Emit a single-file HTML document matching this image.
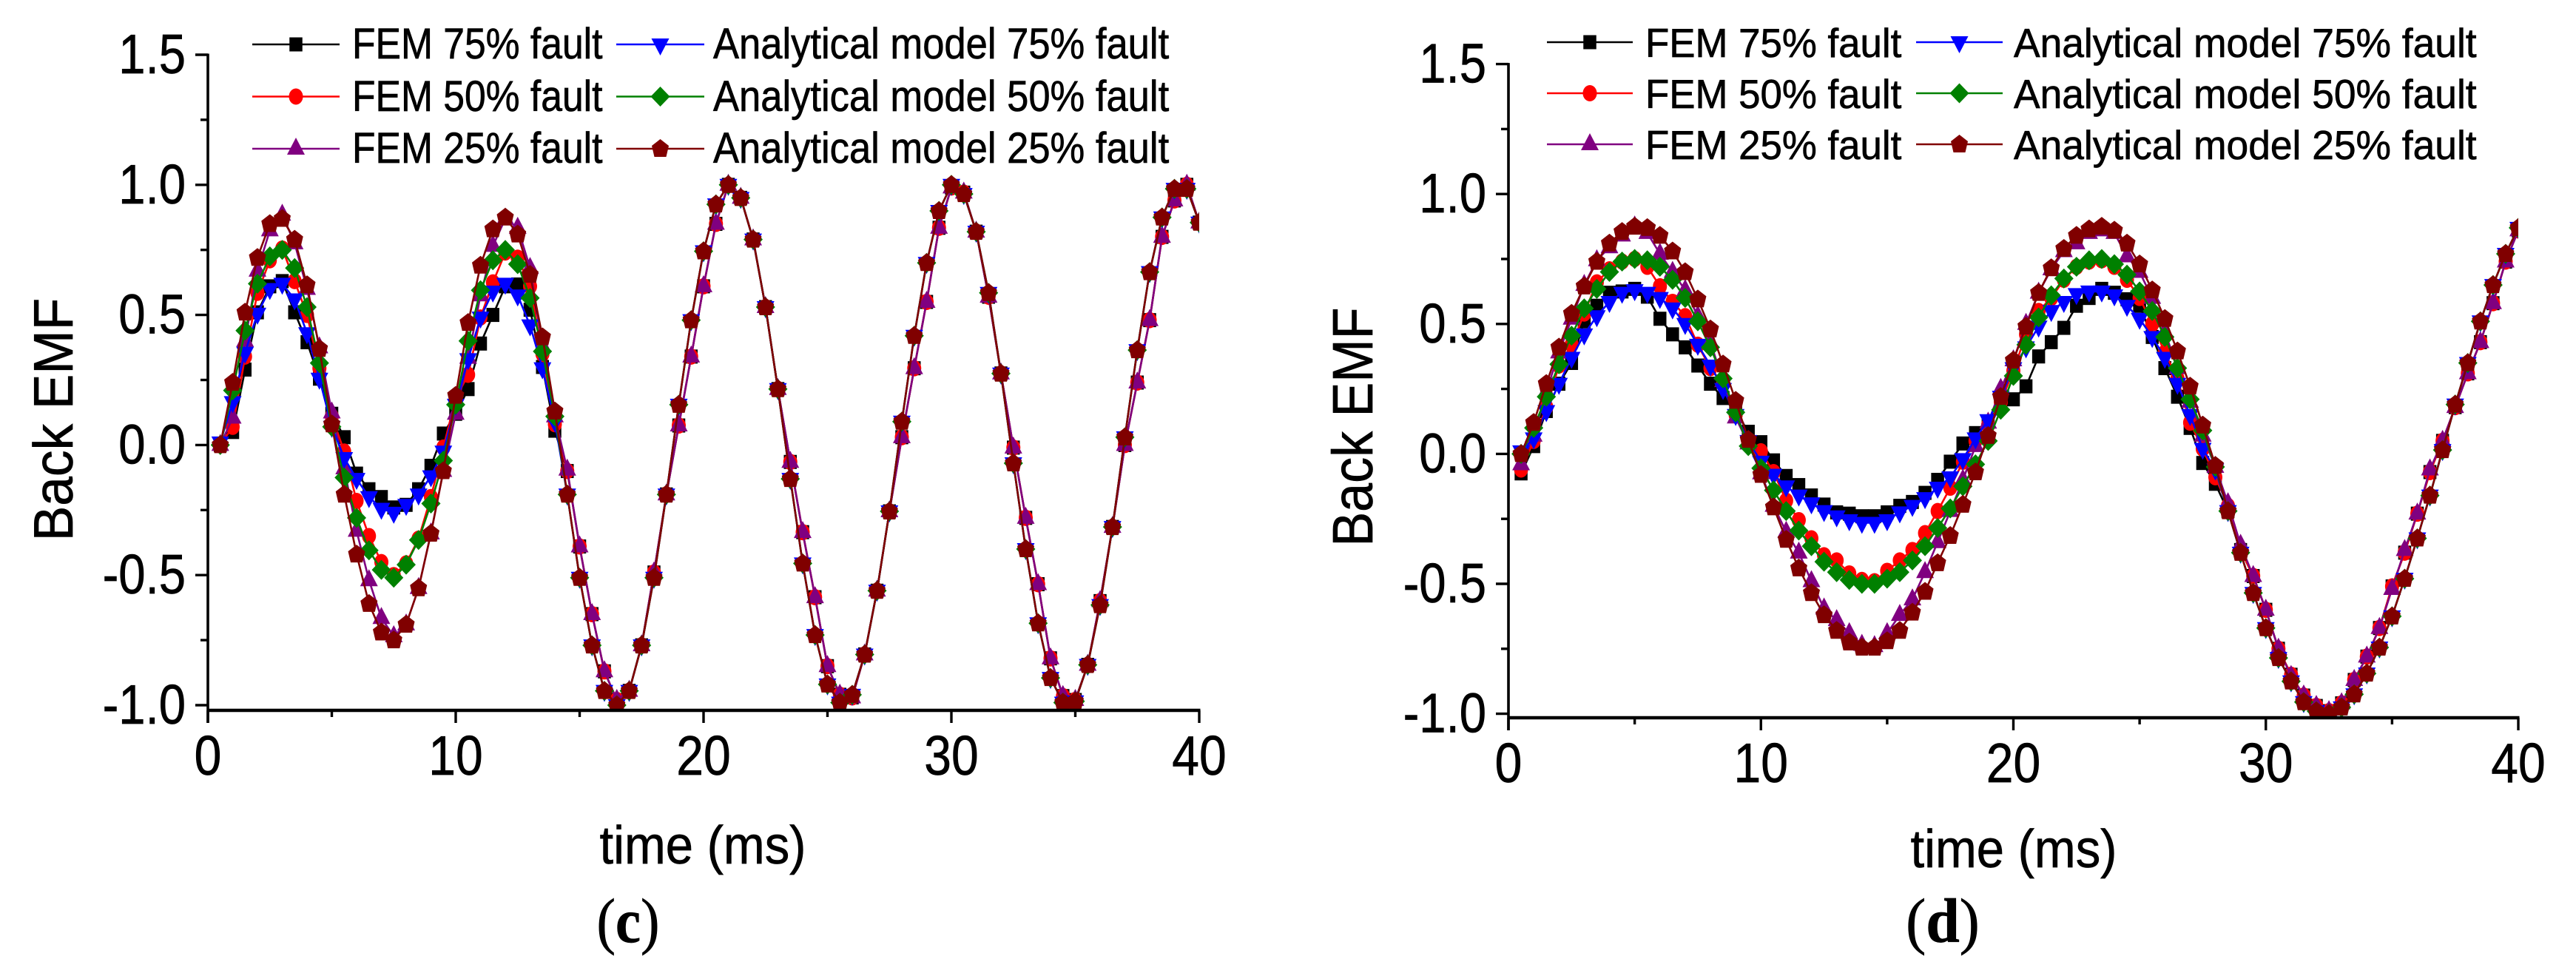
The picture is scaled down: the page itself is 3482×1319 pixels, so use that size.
<!DOCTYPE html>
<html lang="en">
<head>
<meta charset="utf-8">
<title>Back EMF comparison</title>
<style>
html,body{margin:0;padding:0;background:#fff;}
svg{display:block;}
text{font-family:"Liberation Sans",sans-serif;fill:#000;stroke:#000;stroke-width:.7px;}
.serif{font-family:"Liberation Serif",serif;}
</style>
</head>
<body>
<svg id="figure" xmlns="http://www.w3.org/2000/svg" width="3482" height="1319" viewBox="0 0 3482 1319">
  <rect width="3482" height="1319" fill="#fff"/>
  <defs>
    <clipPath id="clip-c"><rect x="281" y="60" width="1340" height="900"/></clipPath>
    <clipPath id="clip-d"><rect x="2039" y="60" width="1365" height="910"/></clipPath>
  </defs>
  <g id="panel-c">
    <g id="panel-c-marks" clip-path="url(#clip-c)"></g>
    <g id="panel-c-axes"></g>
    <g id="panel-c-legend-keys"></g>
    <g font-size="58">
      <text transform="translate(476,79) scale(.89,1)">FEM 75% fault</text>
      <text transform="translate(476,150) scale(.89,1)">FEM 50% fault</text>
      <text transform="translate(476,220) scale(.89,1)">FEM 25% fault</text>
      <text transform="translate(964,79) scale(.906,1)">Analytical model 75% fault</text>
      <text transform="translate(964,150) scale(.906,1)">Analytical model 50% fault</text>
      <text transform="translate(964,220) scale(.906,1)">Analytical model 25% fault</text>
    </g>
    <text font-size="75" text-anchor="middle" transform="translate(98,567) rotate(-90) scale(.95,1)">Back EMF</text>
    <text font-size="72" text-anchor="middle" transform="translate(950,1167) scale(.93,1)">time (ms)</text>
    <text class="serif" font-size="85" text-anchor="middle" transform="translate(849,1273) scale(.9,1)">(<tspan font-weight="bold">c</tspan>)</text>
  </g>
  <g id="panel-d">
    <g id="panel-d-marks" clip-path="url(#clip-d)"></g>
    <g id="panel-d-axes"></g>
    <g id="panel-d-legend-keys"></g>
    <g font-size="55">
      <text transform="translate(2224,77) scale(.96,1)">FEM 75% fault</text>
      <text transform="translate(2224,146) scale(.96,1)">FEM 50% fault</text>
      <text transform="translate(2224,215) scale(.96,1)">FEM 25% fault</text>
      <text transform="translate(2722,77) scale(.97,1)">Analytical model 75% fault</text>
      <text transform="translate(2722,146) scale(.97,1)">Analytical model 50% fault</text>
      <text transform="translate(2722,215) scale(.97,1)">Analytical model 25% fault</text>
    </g>
    <text font-size="77" text-anchor="middle" transform="translate(1855,577) rotate(-90) scale(.91,1)">Back EMF</text>
    <text font-size="72" text-anchor="middle" transform="translate(2722,1172) scale(.93,1)">time (ms)</text>
    <text class="serif" font-size="85" text-anchor="middle" transform="translate(2626,1273) scale(.96,1)">(<tspan font-weight="bold">d</tspan>)</text>
  </g>
</svg>
<script>
const timeMs = [0.5,1,1.5,2,2.5,3,3.5,4,4.5,5,5.5,6,6.5,7,7.5,8,8.5,9,9.5,10,10.5,11,11.5,12,12.5,13,13.5,14,14.5,15,15.5,16,16.5,17,17.5,18,18.5,19,19.5,20,20.5,21,21.5,22,22.5,23,23.5,24,24.5,25,25.5,26,26.5,27,27.5,28,28.5,29,29.5,30,30.5,31,31.5,32,32.5,33,33.5,34,34.5,35,35.5,36,36.5,37,37.5,38,38.5,39,39.5,40];
const xTickValues = [0,10,20,30,40];
const xMinorValues = [5,15,25,35];
const yTickValues = [-1,-0.5,0,0.5,1,1.5];
const yMinorValues = [-0.75,-0.25,0.25,0.75,1.25];

const cFem75 = [0,.05,.29,.51,.61,.63,.51,.395,.255,.12,.03,-.11,-.17,-.2,-.24,-.23,-.17,-.08,.044,.12,.215,.39,.5,.61,.617,.52,.3,.055,-.1,-.39,-.65,-.87,-.98,-.945,-.77,-.49,-.19,.075,.34,.61,.85,1,.95,.79,.53,.215,-.065,-.335,-.585,-.85,-.96,-.97,-.805,-.56,-.255,.03,.295,.55,.835,.99,.97,.82,.57,.275,-.01,-.28,-.535,-.82,-.965,-.98,-.845,-.6,-.315,0,.24,.48,.8,.94,1,.855];
const cFem50 = [0,.07,.34,.585,.71,.755,.63,.5,.295,.11,-.025,-.215,-.35,-.45,-.5,-.455,-.36,-.2,-.01,.18,.27,.49,.625,.74,.72,.61,.35,.08,-.1,-.39,-.65,-.87,-.98,-.945,-.77,-.49,-.19,.075,.34,.61,.85,1,.95,.79,.53,.215,-.065,-.335,-.585,-.85,-.96,-.97,-.805,-.56,-.255,.03,.295,.55,.835,.99,.97,.82,.57,.275,-.01,-.28,-.535,-.82,-.965,-.98,-.845,-.6,-.315,0,.24,.48,.8,.94,1,.855];
const cFem25 = [0,.105,.4,.67,.825,.885,.775,.6,.375,.125,-.09,-.33,-.52,-.665,-.735,-.69,-.55,-.34,-.1,.12,.335,.575,.765,.87,.835,.68,.38,.11,-.095,-.39,-.65,-.87,-.98,-.945,-.77,-.49,-.19,.075,.34,.61,.85,1,.95,.79,.53,.215,-.065,-.335,-.585,-.85,-.96,-.97,-.805,-.56,-.255,.03,.295,.55,.835,.99,.97,.82,.57,.275,-.01,-.28,-.535,-.82,-.965,-.98,-.845,-.6,-.315,0,.24,.48,.8,.94,1,.855];
const cModel75 = [.01,.165,.355,.505,.6,.62,.56,.43,.255,.07,-.05,-.13,-.2,-.245,-.26,-.23,-.19,-.12,-.025,.155,.33,.49,.59,.62,.575,.46,.295,.09,-.19,-.51,-.77,-.945,-1,-.945,-.77,-.51,-.19,.155,.48,.745,.925,1,.95,.79,.53,.215,-.13,-.455,-.73,-.92,-.99,-.96,-.805,-.56,-.255,.09,.42,.7,.9,1,.965,.82,.585,.275,-.07,-.4,-.685,-.895,-.99,-.985,-.845,-.615,-.315,.03,.365,.665,.875,.985,.985,.855];
const cModel50 = [0,.21,.44,.62,.725,.75,.68,.53,.315,.07,-.125,-.28,-.405,-.48,-.51,-.46,-.365,-.225,-.06,.155,.4,.595,.71,.75,.695,.565,.36,.11,-.19,-.51,-.77,-.945,-1,-.945,-.77,-.51,-.19,.155,.48,.745,.925,1,.95,.79,.53,.215,-.13,-.455,-.73,-.92,-.99,-.96,-.805,-.56,-.255,.09,.42,.7,.9,1,.965,.82,.585,.275,-.07,-.4,-.685,-.895,-.99,-.985,-.845,-.615,-.315,.03,.365,.665,.875,.985,.985,.855];
const cModel25 = [0,.24,.51,.72,.85,.87,.79,.615,.37,.08,-.19,-.42,-.61,-.72,-.75,-.69,-.55,-.34,-.1,.19,.47,.69,.83,.875,.81,.655,.415,.13,-.19,-.51,-.77,-.945,-1,-.945,-.77,-.51,-.19,.155,.48,.745,.925,1,.95,.79,.53,.215,-.13,-.455,-.73,-.92,-.99,-.96,-.805,-.56,-.255,.09,.42,.7,.9,1,.965,.82,.585,.275,-.07,-.4,-.685,-.895,-.99,-.985,-.845,-.615,-.315,.03,.365,.665,.875,.985,.985,.855];

const dFem75 = [-.075,.03,.165,.27,.35,.51,.57,.62,.625,.635,.605,.52,.46,.41,.34,.27,.215,.165,.085,.045,-.025,-.085,-.12,-.16,-.195,-.225,-.23,-.24,-.24,-.225,-.2,-.185,-.15,-.1,-.03,.04,.08,.125,.19,.21,.26,.375,.43,.485,.57,.6,.635,.62,.595,.57,.45,.33,.22,.1,-.035,-.115,-.22,-.37,-.47,-.6,-.75,-.85,-.93,-.97,-.99,-.96,-.87,-.78,-.67,-.51,-.38,-.23,-.07,.05,.18,.31,.43,.58,.74,.86];
const dFem50 = [-.06,.05,.18,.34,.42,.54,.66,.71,.74,.75,.72,.645,.585,.53,.42,.33,.27,.15,.05,.01,-.07,-.18,-.255,-.325,-.39,-.41,-.46,-.485,-.49,-.45,-.41,-.37,-.305,-.22,-.13,-.03,.05,.11,.2,.32,.46,.55,.6,.67,.72,.74,.745,.72,.67,.6,.5,.39,.29,.12,.02,-.09,-.2,-.37,-.47,-.6,-.75,-.85,-.93,-.97,-.99,-.96,-.87,-.78,-.67,-.51,-.38,-.23,-.07,.05,.18,.31,.43,.58,.74,.86];
const dFem25 = [-.04,.07,.24,.39,.52,.65,.745,.795,.84,.875,.85,.77,.7,.63,.53,.43,.28,.14,.04,-.075,-.2,-.3,-.38,-.49,-.595,-.64,-.69,-.735,-.74,-.69,-.62,-.56,-.455,-.34,-.22,-.1,.03,.12,.25,.36,.5,.62,.71,.78,.81,.85,.86,.85,.76,.7,.6,.47,.33,.2,.07,-.05,-.19,-.35,-.47,-.6,-.75,-.855,-.93,-.97,-.99,-.96,-.87,-.78,-.67,-.52,-.37,-.23,-.06,.05,.18,.31,.43,.58,.74,.86];
const dModel75 = [.01,.06,.165,.27,.37,.46,.53,.585,.62,.63,.62,.6,.56,.5,.42,.34,.25,.15,.05,-.03,-.08,-.125,-.16,-.19,-.22,-.24,-.255,-.265,-.265,-.255,-.225,-.2,-.17,-.13,-.09,-.02,.06,.13,.22,.33,.41,.49,.55,.585,.615,.625,.625,.61,.57,.52,.45,.37,.27,.15,.02,-.06,-.22,-.38,-.535,-.67,-.785,-.875,-.955,-.99,-1,-.975,-.925,-.845,-.745,-.625,-.48,-.325,-.16,.015,.19,.35,.51,.65,.77,.87];
const dModel50 = [0,.1,.22,.345,.455,.56,.635,.7,.74,.75,.745,.72,.67,.6,.51,.41,.29,.16,.03,-.055,-.14,-.22,-.295,-.355,-.415,-.455,-.485,-.5,-.5,-.48,-.455,-.41,-.355,-.285,-.21,-.125,-.04,.05,.17,.3,.42,.525,.61,.675,.72,.745,.75,.73,.69,.625,.55,.45,.33,.21,.09,-.05,-.22,-.38,-.535,-.67,-.785,-.875,-.955,-.99,-1,-.975,-.925,-.845,-.745,-.625,-.48,-.325,-.16,.015,.19,.35,.51,.65,.77,.87];
const dModel25 = [0,.12,.27,.41,.54,.645,.74,.81,.855,.875,.87,.84,.78,.7,.595,.48,.345,.205,.055,-.08,-.205,-.33,-.44,-.535,-.62,-.68,-.725,-.745,-.745,-.72,-.68,-.61,-.53,-.42,-.315,-.195,-.07,.07,.22,.36,.49,.62,.715,.79,.84,.865,.875,.86,.81,.73,.63,.52,.395,.26,.11,-.045,-.22,-.38,-.535,-.67,-.785,-.875,-.955,-.99,-1,-.975,-.925,-.845,-.745,-.625,-.48,-.325,-.16,.015,.19,.35,.51,.65,.77,.87];

const SVGNS = 'http://www.w3.org/2000/svg';

function make(tag, attrs, parent) {
  const el = document.createElementNS(SVGNS, tag);
  for (const k in attrs) el.setAttribute(k, attrs[k]);
  parent.appendChild(el);
  return el;
}

function drawMarker(kind, cx, cy, color, parent, name) {
  let el;
  if (kind === 'square') {
    el = make('rect', {x: cx - 8.75, y: cy - 9.5, width: 17.5, height: 19, fill: color}, parent);
  } else if (kind === 'circle') {
    el = make('ellipse', {cx: cx, cy: cy, rx: 9.5, ry: 11, fill: color}, parent);
  } else {
    const shapes = {
      up: [[0,-15],[12,8],[-12,8]],
      down: [[-12,-8],[12,-8],[0,15]],
      diamond: [[0,-13.5],[13,0],[0,13.5],[-13,0]],
      pentagon: [[0,-13],[11.5,-4],[8,11],[-8,11],[-11.5,-4]]
    };
    const pts = shapes[kind].map(p => (cx + p[0]) + ',' + (cy + p[1])).join(' ');
    el = make('polygon', {points: pts, fill: color}, parent);
  }
  
  
  return el;
}

function drawPanel(id, layout, series) {
  const xScale = t => layout.x0 + (t / 40) * (layout.x1 - layout.x0);
  const yScale = v => layout.yZero - v * layout.yUnit;
  const marks = document.getElementById(id + '-marks');
  const axes = document.getElementById(id + '-axes');
  const keys = document.getElementById(id + '-legend-keys');

  series.forEach(s => {
    const pts = s.values.map((v, i) => xScale(timeMs[i]).toFixed(1) + ',' + yScale(v).toFixed(1)).join(' ');
    const line = make('polyline', {points: pts, fill: 'none', stroke: s.color, 'stroke-width': 2.6, 'stroke-linejoin': 'round'}, marks);
    
    
    s.values.forEach((v, i) => {
      drawMarker(s.marker, xScale(timeMs[i]), yScale(v), s.color, marks, s.name + '-point');
    });
  });

  const yLine = make('line', {x1: layout.x0, x2: layout.x0, y1: yScale(1.5) - 1.5, y2: layout.yBottom + 17, stroke: '#000', 'stroke-width': 3.6}, axes);
  
  
  const xLine = make('line', {x1: layout.x0, x2: layout.x1 + 1.5, y1: layout.yBottom, y2: layout.yBottom, stroke: '#000', 'stroke-width': 4.4}, axes);
  
  

  yTickValues.forEach(v => {
    const tick = make('line', {x1: layout.x0 - 17, x2: layout.x0, y1: yScale(v), y2: yScale(v), stroke: '#000', 'stroke-width': 3.4}, axes);
    
    
    const label = make('text', {'font-size': 75, 'text-anchor': 'end', transform: 'translate(' + (layout.x0 - 30) + ',' + (yScale(v) + 25) + ') scale(.87,1)'}, axes);
    label.textContent = v.toFixed(1);
    
    
  });
  yMinorValues.forEach(v => {
    const tick = make('line', {x1: layout.x0 - 10, x2: layout.x0, y1: yScale(v), y2: yScale(v), stroke: '#000', 'stroke-width': 3.4}, axes);
    
    
  });
  xTickValues.forEach(t => {
    const tick = make('line', {x1: xScale(t), x2: xScale(t), y1: layout.yBottom, y2: layout.yBottom + 17, stroke: '#000', 'stroke-width': 3.4}, axes);
    
    
    const label = make('text', {'font-size': 75, 'text-anchor': 'middle', transform: 'translate(' + xScale(t) + ',' + (layout.yBottom + 87) + ') scale(.88,1)'}, axes);
    label.textContent = String(t);
    
    
  });
  xMinorValues.forEach(t => {
    const tick = make('line', {x1: xScale(t), x2: xScale(t), y1: layout.yBottom, y2: layout.yBottom + 9, stroke: '#000', 'stroke-width': 3.4}, axes);
    
    
  });

  series.forEach((s, i) => {
    const col = i < 3 ? layout.legendCol1 : layout.legendCol2;
    const ly = layout.legendRows[i % 3];
    const key = make('line', {x1: col[0], x2: col[1], y1: ly, y2: ly, stroke: s.color, 'stroke-width': 2.4}, keys);
    
    
    drawMarker(s.marker, (col[0] + col[1]) / 2, ly, s.color, keys, s.name + '-legend-marker');
  });
}

drawPanel('panel-c',
  {x0: 281, x1: 1621, yZero: 601.4, yUnit: 351.6, yBottom: 960, legendCol1: [341, 459], legendCol2: [833, 952], legendRows: [60, 130.5, 201]},
  [
    {name: 'fem-75-fault', color: '#000000', marker: 'square', values: cFem75},
    {name: 'fem-50-fault', color: '#ff0000', marker: 'circle', values: cFem50},
    {name: 'fem-25-fault', color: '#800080', marker: 'up', values: cFem25},
    {name: 'analytical-75-fault', color: '#0000ff', marker: 'down', values: cModel75},
    {name: 'analytical-50-fault', color: '#008000', marker: 'diamond', values: cModel50},
    {name: 'analytical-25-fault', color: '#800000', marker: 'pentagon', values: cModel25}
  ]);

drawPanel('panel-d',
  {x0: 2039, x1: 3404, yZero: 613.4, yUnit: 351.2, yBottom: 970, legendCol1: [2091, 2207], legendCol2: [2590, 2707], legendRows: [57, 126, 195]},
  [
    {name: 'fem-75-fault', color: '#000000', marker: 'square', values: dFem75},
    {name: 'fem-50-fault', color: '#ff0000', marker: 'circle', values: dFem50},
    {name: 'fem-25-fault', color: '#800080', marker: 'up', values: dFem25},
    {name: 'analytical-75-fault', color: '#0000ff', marker: 'down', values: dModel75},
    {name: 'analytical-50-fault', color: '#008000', marker: 'diamond', values: dModel50},
    {name: 'analytical-25-fault', color: '#800000', marker: 'pentagon', values: dModel25}
  ]);
</script>
</body>
</html>
